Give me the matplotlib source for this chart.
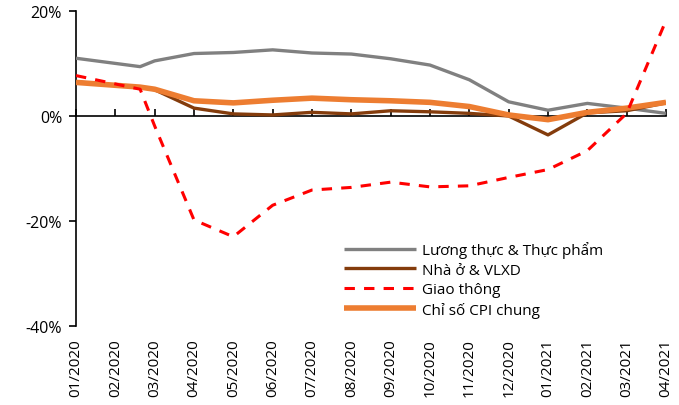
import matplotlib
matplotlib.use("Agg")
import matplotlib.pyplot as plt

# month index of each observation (second reading falls between Feb and Mar)
month_pos = [0, 1.63, 2, 3, 4, 5, 6, 7, 8, 9, 10, 11, 12, 13, 14, 15]
tick_labels = ["01/2020", "02/2020", "03/2020", "04/2020", "05/2020", "06/2020",
               "07/2020", "08/2020", "09/2020", "10/2020", "11/2020", "12/2020",
               "01/2021", "02/2021", "03/2021", "04/2021"]

food = [11.0, 9.4, 10.5, 11.9, 12.1, 12.6, 12.0, 11.8, 10.9, 9.7, 6.9, 2.7, 1.1, 2.4, 1.5, 0.5]
housing = [6.5, 5.5, 5.0, 1.5, 0.4, 0.2, 0.7, 0.4, 1.0, 0.8, 0.5, 0.0, -3.6, 0.6, 1.0, 2.5]
transport = [7.7, 5.1, -1.9, -19.8, -23.0, -17.0, -14.1, -13.6, -12.6, -13.5, -13.3, -11.7, -10.2, -6.6, 0.5, 18.2]
cpi = [6.4, 5.5, 5.1, 2.9, 2.5, 3.0, 3.4, 3.1, 2.9, 2.6, 1.8, 0.2, -0.7, 0.7, 1.5, 2.6]

y_ticks = [-40, -20, 0, 20]
y_labels = ["-40%", "-20%", "0%", "20%"]

plt.rcParams['font.family'] = ['Open Sans', 'DejaVu Sans']

fig = plt.figure(figsize=(6.79, 4.06), dpi=100)
ax = fig.add_axes([76 / 679, 1 - 327 / 406, 590 / 679, 315 / 406])

ax.plot(month_pos, food, color="#808080", lw=2.4, label="Lương thực & Thực phẩm", zorder=3, solid_capstyle='butt')
ax.plot(month_pos, housing, color="#843c0c", lw=2.4, label="Nhà ở & VLXD", zorder=4, solid_capstyle='butt')
ax.plot(month_pos, transport, color="#ff0000", lw=2.2, ls=(0, (3.4, 3.0)), label="Giao thông", zorder=6)
ax.plot(month_pos, cpi, color="#ed7d31", lw=4.0, label="Chỉ số CPI chung", zorder=5, solid_capstyle='butt')

ax.set_xlim(0, 15)
ax.set_ylim(-40, 20)
ax.set_yticks(y_ticks)
ax.set_yticklabels(y_labels, fontsize=11.5)
ax.tick_params(axis='y', direction='out', length=5, width=1.2, pad=5)

# month labels at the bottom, tick marks along the 0% line
ax.set_xticks(range(len(tick_labels)))
ax.set_xticklabels(tick_labels, rotation=90, fontsize=11, va='top')
ax.tick_params(axis='x', length=0, pad=9)

for side in ["top", "right", "bottom"]:
    ax.spines[side].set_visible(False)
ax.spines["left"].set_linewidth(1.2)

zero_axis = ax.secondary_xaxis(40 / 60)
zero_axis.set_xticks(range(len(tick_labels)))
zero_axis.set_xticklabels([])
zero_axis.tick_params(axis='x', direction='out', length=5, width=1.2)
zero_axis.spines["bottom"].set_linewidth(1.2)
zero_axis.spines["top"].set_linewidth(1.2)

leg = ax.legend(loc='upper left', bbox_to_anchor=((344 - 76) / 590, (327 - 242) / 315),
                frameon=False, fontsize=11, handlelength=4.7, handletextpad=0.4,
                labelspacing=0.3, borderpad=0, borderaxespad=0)

fig.savefig("out.png", dpi=100)
